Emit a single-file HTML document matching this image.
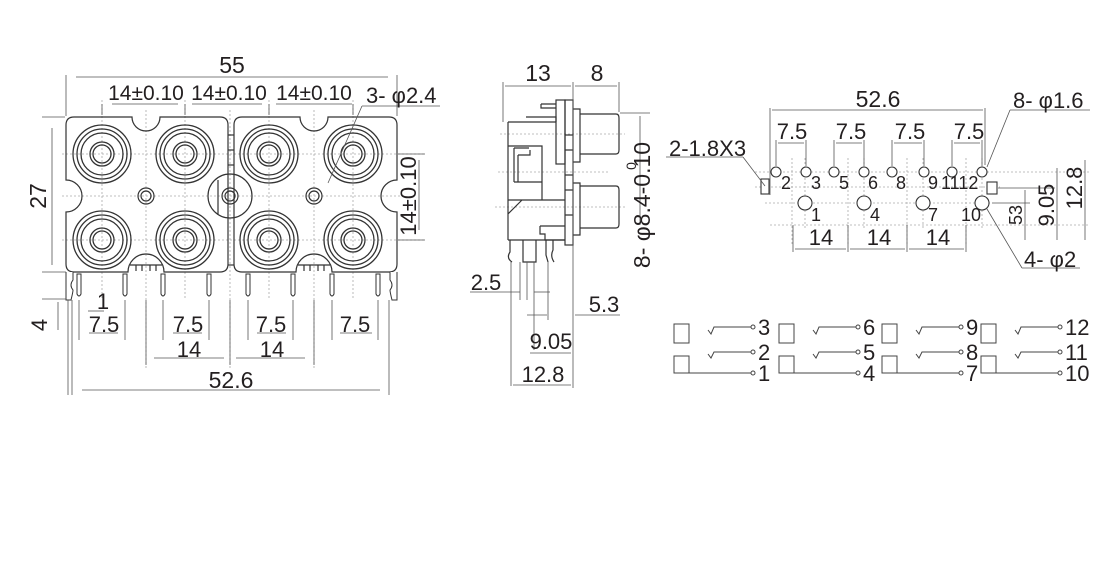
<!DOCTYPE html>
<html><head><meta charset="utf-8"><style>
html,body{margin:0;padding:0;background:#fff;}
svg{display:block;}
text{font-family:"Liberation Sans",sans-serif;fill:#231f20;}
</style></head><body>
<svg width="1120" height="582" viewBox="0 0 1120 582" xmlns="http://www.w3.org/2000/svg">
<defs>
<g id="jack" fill="none" stroke="#333" stroke-width="1.3">
<circle r="29"/><circle r="25"/><circle r="21"/><circle r="12"/><circle r="9"/>
</g>
<g id="hole" fill="none" stroke="#333" stroke-width="1.2"><circle r="8"/><circle r="5"/></g>
</defs>
<rect width="1120" height="582" fill="#fff"/>

<!-- ===== FRONT VIEW ===== -->
<g stroke="#aaa" stroke-width="0.8" stroke-dasharray="2,2" fill="none">
<line x1="62" y1="154" x2="425" y2="154"/><line x1="62" y1="240" x2="425" y2="240"/>
<line x1="62" y1="196" x2="405" y2="196"/>
<line x1="102" y1="100" x2="102" y2="300"/><line x1="185" y1="100" x2="185" y2="300"/>
<line x1="269" y1="100" x2="269" y2="300"/><line x1="353" y1="100" x2="353" y2="300"/>
<line x1="146" y1="110" x2="146" y2="370"/><line x1="314" y1="110" x2="314" y2="370"/>
<line x1="230" y1="110" x2="230" y2="370"/>
</g>
<g fill="none" stroke="#333" stroke-width="1.2">
<path d="M74,117 H132 A14,14 0 0 0 160,117 H220 Q228,117 228,125 V264 Q228,272 220,272 H164 A18,18 0 0 0 128,272 H74 Q66,272 66,264 V212 A16,16 0 0 0 66,180 V125 Q66,117 74,117Z"/>
<path d="M242,117 H300 A14,14 0 0 0 328,117 H389 Q397,117 397,125 V180 A16,16 0 0 0 397,212 V264 Q397,272 389,272 H332 A18,18 0 0 0 296,272 H242 Q234,272 234,264 V125 Q234,117 242,117Z"/>
<line x1="228" y1="135" x2="234" y2="135"/><line x1="228" y1="150" x2="234" y2="150"/>
<line x1="228" y1="165" x2="234" y2="165"/><line x1="228" y1="265" x2="234" y2="265"/>
<circle cx="230" cy="196" r="22"/>
<line x1="218" y1="180" x2="218" y2="215"/>
<path d="M130,265 H162 M298,265 H330"/>
<path d="M136,265 V271 M142,265 V271 M150,265 V271 M156,265 V271 M304,265 V271 M310,265 V271 M318,265 V271 M324,265 V271"/>
</g>
<use href="#jack" x="102" y="154"/><use href="#jack" x="185" y="154"/>
<use href="#jack" x="269" y="154"/><use href="#jack" x="353" y="154"/>
<use href="#jack" x="102" y="240"/><use href="#jack" x="185" y="240"/>
<use href="#jack" x="269" y="240"/><use href="#jack" x="353" y="240"/>
<use href="#hole" x="146" y="196"/><use href="#hole" x="314" y="196"/><use href="#hole" x="230" y="196"/>
<g fill="#fff" stroke="#333" stroke-width="1">
<path d="M66,272 V300 H71 Q73,292 73,290 Q69,285 73,280 V272"/>
<path d="M397,272 V300 H392 Q390,292 390,290 Q394,285 390,280 V272"/>
<path d="M77,274 V294 Q79,298 81,294 V274Z"/>
<path d="M123,274 V294 Q125,298 127,294 V274Z"/>
<path d="M161,274 V294 Q163,298 165,294 V274Z"/>
<path d="M207,274 V294 Q209,298 211,294 V274Z"/>
<path d="M246,274 V294 Q248,298 250,294 V274Z"/>
<path d="M291,274 V294 Q293,298 295,294 V274Z"/>
<path d="M330,274 V294 Q332,298 334,294 V274Z"/>
<path d="M376,274 V294 Q378,298 380,294 V274Z"/>
</g>
<g stroke="#555" stroke-width="0.8" fill="none">
<line x1="66" y1="75" x2="66" y2="116"/><line x1="397" y1="75" x2="397" y2="116"/>
<line x1="76" y1="77" x2="388" y2="77"/>
<line x1="102" y1="104" x2="102" y2="115"/><line x1="185" y1="104" x2="185" y2="115"/>
<line x1="269" y1="104" x2="269" y2="115"/><line x1="353" y1="104" x2="353" y2="115"/>
<line x1="112" y1="104" x2="178" y2="104"/><line x1="192" y1="104" x2="262" y2="104"/><line x1="276" y1="104" x2="352" y2="104"/>
<line x1="42" y1="117" x2="65" y2="117"/><line x1="42" y1="272" x2="66" y2="272"/>
<line x1="52" y1="128" x2="52" y2="265"/>
<line x1="42" y1="299" x2="66" y2="299"/>
<line x1="398" y1="154" x2="425" y2="154"/><line x1="398" y1="240" x2="425" y2="240"/>
<line x1="419" y1="160" x2="419" y2="230"/>
<path d="M362,106 L328,183"/><line x1="362" y1="106" x2="440" y2="106"/>
<line x1="58" y1="302" x2="58" y2="330"/><line x1="68" y1="300" x2="68" y2="395"/>
<line x1="72" y1="300" x2="72" y2="395"/><line x1="79" y1="300" x2="79" y2="340"/>
<line x1="125" y1="300" x2="125" y2="340"/><line x1="163" y1="300" x2="163" y2="340"/>
<line x1="209" y1="300" x2="209" y2="340"/><line x1="248" y1="300" x2="248" y2="340"/>
<line x1="293" y1="300" x2="293" y2="340"/><line x1="332" y1="300" x2="332" y2="340"/>
<line x1="378" y1="300" x2="378" y2="340"/><line x1="389" y1="300" x2="389" y2="395"/>
<line x1="146" y1="300" x2="146" y2="365"/><line x1="230" y1="300" x2="230" y2="365"/><line x1="314" y1="300" x2="314" y2="365"/>
<line x1="88" y1="311" x2="104" y2="311"/>
<line x1="89" y1="333" x2="118" y2="333"/><line x1="173" y1="333" x2="202" y2="333"/>
<line x1="257" y1="333" x2="286" y2="333"/><line x1="340" y1="333" x2="372" y2="333"/>
<line x1="154" y1="358" x2="224" y2="358"/><line x1="236" y1="358" x2="305" y2="358"/>
<line x1="82" y1="390" x2="380" y2="390"/>
</g>
<text x="232" y="73" font-size="23" text-anchor="middle">55</text>
<text x="146" y="100" font-size="21" text-anchor="middle">14±0.10</text>
<text x="229" y="100" font-size="21" text-anchor="middle">14±0.10</text>
<text x="314" y="100" font-size="21" text-anchor="middle">14±0.10</text>
<text x="366" y="103" font-size="22">3- φ2.4</text>
<text transform="translate(46,196) rotate(-90)" font-size="23" text-anchor="middle">27</text>
<text transform="translate(416,196) rotate(-90)" font-size="22" text-anchor="middle">14±0.10</text>
<text transform="translate(47,325) rotate(-90)" font-size="22" text-anchor="middle">4</text>
<text x="103" y="309" font-size="22" text-anchor="middle">1</text>
<text x="104" y="332" font-size="22" text-anchor="middle">7.5</text>
<text x="188" y="332" font-size="22" text-anchor="middle">7.5</text>
<text x="271" y="332" font-size="22" text-anchor="middle">7.5</text>
<text x="355" y="332" font-size="22" text-anchor="middle">7.5</text>
<text x="189" y="357" font-size="22" text-anchor="middle">14</text>
<text x="272" y="357" font-size="22" text-anchor="middle">14</text>
<text x="231" y="388" font-size="23" text-anchor="middle">52.6</text>

<!-- ===== SIDE VIEW ===== -->
<g stroke="#aaa" stroke-width="0.8" stroke-dasharray="2,2">
<line x1="500" y1="134" x2="625" y2="134"/><line x1="498" y1="172" x2="610" y2="172"/><line x1="495" y1="207" x2="625" y2="207"/>
</g>
<g fill="none" stroke="#333" stroke-width="1.2">
<rect x="565" y="100" width="8" height="145"/>
<rect x="556" y="100" width="9" height="64"/>
<path d="M541,104 H556 M541,104 V108 H556"/>
<path d="M573,109 H580 V162 H573 M573,183 H580 V235 H573"/>
<path d="M580,114 H616 Q619,114 619,118 V150 Q619,154 616,154 H580"/>
<path d="M580,186 H616 Q619,186 619,190 V224 Q619,228 616,228 H580"/>
<path d="M508,122 H556 M526,117 H556 V122 M508,122 V240 M508,146 H542 V200 M508,200 H565 M508,214 L522,200"/>
<path d="M514,148 V182 M514,148 H529 M518,155 V182 M518,155 H530 V150 M514,182 H542"/>
<path d="M565,135 H573 M565,150 H573 M565,175 H573 M565,190 H573 M565,215 H573"/>
<path d="M540,226 H565 M540,226 V234 H545 V240 H565"/>
<path d="M508,240 H565 M510,240 V252 Q506,258 512,262 M523,240 V262 H536 V240 M546,240 V255 L548,262 M553,240 V250 Q550,256 554,262"/>
</g>
<g stroke="#555" stroke-width="0.8" fill="none">
<line x1="503" y1="82" x2="503" y2="122"/><line x1="573" y1="82" x2="573" y2="300"/><line x1="619" y1="82" x2="619" y2="112"/>
<line x1="505" y1="86" x2="571" y2="86"/><line x1="575" y1="86" x2="617" y2="86"/>
<line x1="620" y1="113" x2="650" y2="113"/><line x1="640" y1="116" x2="640" y2="225"/>
<line x1="520" y1="262" x2="520" y2="300"/><line x1="527" y1="262" x2="527" y2="300"/>
<line x1="534" y1="262" x2="534" y2="350"/><line x1="548" y1="262" x2="548" y2="320"/>
<line x1="511" y1="262" x2="511" y2="386"/>
<line x1="470" y1="292" x2="520" y2="292"/><line x1="534" y1="292" x2="550" y2="292"/>
<line x1="527" y1="315" x2="547" y2="315"/><line x1="575" y1="315" x2="620" y2="315"/>
<line x1="530" y1="353" x2="571" y2="353"/><line x1="513" y1="385" x2="571" y2="385"/>
<line x1="573" y1="300" x2="573" y2="388"/>
</g>
<text x="538" y="81" font-size="23" text-anchor="middle">13</text>
<text x="597" y="81" font-size="23" text-anchor="middle">8</text>
<text transform="translate(650,205) rotate(-90)" font-size="23" text-anchor="middle">8- φ8.4-0.10</text>
<text transform="translate(636,166) rotate(-90)" font-size="14" text-anchor="middle">0</text>
<text x="486" y="290" font-size="22" text-anchor="middle">2.5</text>
<text x="604" y="312" font-size="22" text-anchor="middle">5.3</text>
<text x="551" y="349" font-size="22" text-anchor="middle">9.05</text>
<text x="543" y="382" font-size="22" text-anchor="middle">12.8</text>

<!-- ===== PIN LAYOUT ===== -->
<g stroke="#aaa" stroke-width="0.8" stroke-dasharray="2,2">
<line x1="755" y1="172" x2="1090" y2="172"/><line x1="755" y1="187" x2="1000" y2="187"/>
<line x1="765" y1="203" x2="990" y2="203"/><line x1="770" y1="225" x2="1090" y2="225"/>
<line x1="792" y1="158" x2="792" y2="245"/><line x1="848" y1="158" x2="848" y2="245"/>
<line x1="907" y1="158" x2="907" y2="245"/><line x1="966" y1="158" x2="966" y2="245"/>
<line x1="805" y1="158" x2="805" y2="230"/><line x1="864" y1="158" x2="864" y2="230"/>
<line x1="923" y1="158" x2="923" y2="230"/><line x1="982" y1="158" x2="982" y2="230"/>
</g>
<g fill="#fff" stroke="#333" stroke-width="1.1">
<circle cx="776" cy="172" r="5"/><circle cx="806" cy="172" r="5"/><circle cx="834" cy="172" r="5"/>
<circle cx="864" cy="172" r="5"/><circle cx="892" cy="172" r="5"/><circle cx="924" cy="172" r="5"/>
<circle cx="952" cy="172" r="5"/><circle cx="982" cy="172" r="5"/>
<circle cx="805" cy="203" r="7"/><circle cx="864" cy="203" r="7"/><circle cx="923" cy="203" r="7"/><circle cx="982" cy="203" r="7"/>
<rect x="761" y="179" width="8" height="15"/><rect x="987" y="182" width="10" height="12"/>
</g>
<g stroke="#555" stroke-width="0.8" fill="none">
<line x1="770" y1="108" x2="770" y2="195"/><line x1="985" y1="108" x2="985" y2="165"/>
<line x1="772" y1="110" x2="983" y2="110"/>
<line x1="776" y1="140" x2="776" y2="166"/><line x1="806" y1="140" x2="806" y2="166"/>
<line x1="834" y1="140" x2="834" y2="166"/><line x1="864" y1="140" x2="864" y2="166"/>
<line x1="892" y1="140" x2="892" y2="166"/><line x1="924" y1="140" x2="924" y2="166"/>
<line x1="952" y1="140" x2="952" y2="166"/><line x1="982" y1="140" x2="982" y2="166"/>
<line x1="778" y1="143" x2="804" y2="143"/><line x1="836" y1="143" x2="862" y2="143"/>
<line x1="894" y1="143" x2="922" y2="143"/><line x1="954" y1="143" x2="980" y2="143"/>
<line x1="793" y1="225" x2="793" y2="252"/><line x1="848" y1="225" x2="848" y2="252"/>
<line x1="907" y1="225" x2="907" y2="252"/><line x1="966" y1="225" x2="966" y2="252"/>
<line x1="795" y1="249" x2="846" y2="249"/><line x1="850" y1="249" x2="905" y2="249"/><line x1="909" y1="249" x2="964" y2="249"/>
<line x1="666" y1="157" x2="743" y2="157"/><line x1="743" y1="157" x2="765" y2="186"/>
<line x1="1010" y1="110" x2="1090" y2="110"/><line x1="1010" y1="110" x2="987" y2="167"/>
<line x1="987" y1="209" x2="1022" y2="268"/><line x1="1022" y1="268" x2="1080" y2="268"/>
<line x1="998" y1="188" x2="1055" y2="188"/><line x1="992" y1="203" x2="1030" y2="203"/>
<line x1="1025" y1="190" x2="1025" y2="240"/><line x1="1057" y1="168" x2="1057" y2="240"/><line x1="1085" y1="160" x2="1085" y2="240"/>
</g>
<text x="878" y="107" font-size="23" text-anchor="middle">52.6</text>
<text x="792" y="139" font-size="22" text-anchor="middle">7.5</text>
<text x="851" y="139" font-size="22" text-anchor="middle">7.5</text>
<text x="910" y="139" font-size="22" text-anchor="middle">7.5</text>
<text x="969" y="139" font-size="22" text-anchor="middle">7.5</text>
<text x="669" y="156" font-size="22">2-1.8X3</text>
<text x="1013" y="108" font-size="22">8- φ1.6</text>
<text x="1024" y="267" font-size="22">4- φ2</text>
<text x="821" y="245" font-size="22" text-anchor="middle">14</text>
<text x="879" y="245" font-size="22" text-anchor="middle">14</text>
<text x="938" y="245" font-size="22" text-anchor="middle">14</text>
<g font-size="18">
<text x="781" y="189">2</text><text x="811" y="189">3</text><text x="839" y="189">5</text>
<text x="868" y="189">6</text><text x="896" y="189">8</text><text x="928" y="189">9</text>
<text x="941" y="189">1112</text>
<text x="811" y="221">1</text><text x="870" y="221">4</text><text x="928" y="221">7</text><text x="961" y="221">10</text>
</g>
<text transform="translate(1022,215) rotate(-90)" font-size="18" text-anchor="middle">53</text>
<text transform="translate(1054,205) rotate(-90)" font-size="22" text-anchor="middle">9.05</text>
<text transform="translate(1082,188) rotate(-90)" font-size="22" text-anchor="middle">12.8</text>

<!-- ===== SCHEMATIC ===== -->
<g id="sch" fill="none" stroke="#444" stroke-width="1">
<rect x="674" y="324" width="15" height="19"/><rect x="674" y="356" width="15" height="17"/>
<path d="M689,356 V373 H751"/>
<path d="M708,330 L711,334 L714,327 H751"/>
<path d="M708,354 L711,358 L714,352 H751"/>
<circle cx="753" cy="327" r="2"/><circle cx="753" cy="352" r="2"/><circle cx="753" cy="373" r="2"/>
</g>
<use href="#sch" x="105"/><use href="#sch" x="208"/><use href="#sch" x="307"/>
<g font-size="22">
<text x="758" y="335">3</text><text x="758" y="360">2</text><text x="758" y="381">1</text>
<text x="863" y="335">6</text><text x="863" y="360">5</text><text x="863" y="381">4</text>
<text x="966" y="335">9</text><text x="966" y="360">8</text><text x="966" y="381">7</text>
<text x="1065" y="335">12</text><text x="1065" y="360">11</text><text x="1065" y="381">10</text>
</g>
</svg>
</body></html>
